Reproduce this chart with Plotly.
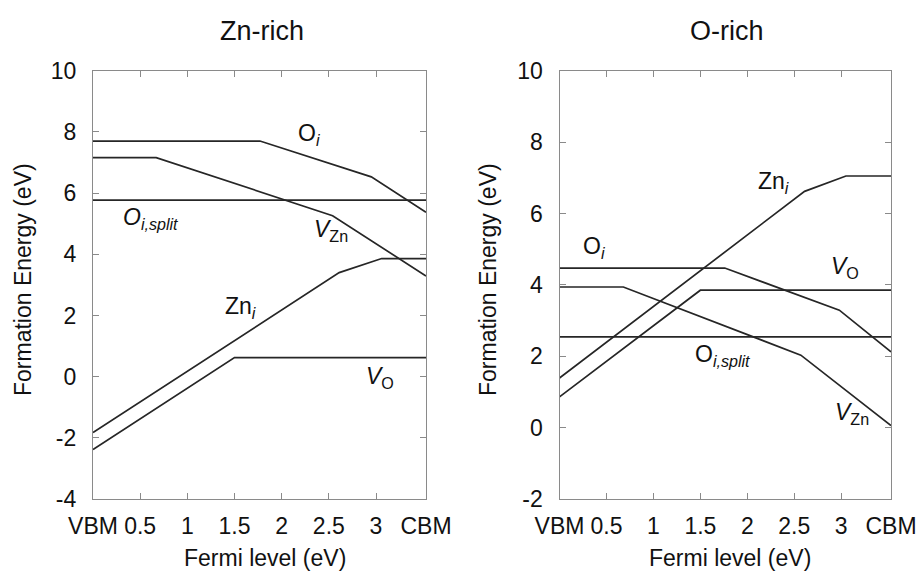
import plotly.graph_objects as go

# Fermi-level range (eV), VBM at 0
CBM = 3.53
x_tick_vals = [0, 0.5, 1, 1.5, 2, 2.5, 3, CBM]
x_tick_text = ["VBM", "0.5", "1", "1.5", "2", "2.5", "3", "CBM"]

# Energy ticks for each panel
zn_y_ticks = [-4, -2, 0, 2, 4, 6, 8, 10]
o_y_ticks = [-2, 0, 2, 4, 6, 8, 10]

# Zn-rich: piecewise-linear formation energies (Fermi level nodes, energies)
zn_oi_x = [0, 1.77, 2.95, CBM]
zn_oi_e = [7.70, 7.70, 6.53, 5.37]
zn_vzn_x = [0, 0.67, 2.54, CBM]
zn_vzn_e = [7.16, 7.16, 5.26, 3.29]
zn_oisplit_x = [0, CBM]
zn_oisplit_e = [5.77, 5.77]
zn_zni_x = [0, 2.61, 3.06, CBM]
zn_zni_e = [-1.83, 3.40, 3.86, 3.86]
zn_vo_x = [0, 1.50, CBM]
zn_vo_e = [-2.38, 0.62, 0.62]

# O-rich
o_oi_x = [0, 1.76, 2.98, CBM]
o_oi_e = [4.47, 4.47, 3.29, 2.12]
o_vzn_x = [0, 0.68, 2.57, CBM]
o_vzn_e = [3.94, 3.94, 2.03, 0.06]
o_oisplit_x = [0, CBM]
o_oisplit_e = [2.54, 2.54]
o_zni_x = [0, 2.61, 3.05, CBM]
o_zni_e = [1.39, 6.62, 7.05, 7.05]
o_vo_x = [0, 1.50, CBM]
o_vo_e = [0.86, 3.85, 3.85]

FONT = "Liberation Sans, Arial, sans-serif"
FS = 23
TXT = "#111111"
LINE = dict(color="#262626", width=1.7)
AX = "#8a8a8a"
W, H = 921, 575

fig = go.Figure()

left = [(zn_oi_x, zn_oi_e), (zn_vzn_x, zn_vzn_e), (zn_oisplit_x, zn_oisplit_e),
        (zn_zni_x, zn_zni_e), (zn_vo_x, zn_vo_e)]
right = [(o_oi_x, o_oi_e), (o_vzn_x, o_vzn_e), (o_oisplit_x, o_oisplit_e),
         (o_zni_x, o_zni_e), (o_vo_x, o_vo_e)]

for xs, es in left:
    fig.add_trace(go.Scatter(x=xs, y=es, mode="lines", line=LINE,
                             xaxis="x", yaxis="y", showlegend=False,
                             hoverinfo="skip"))
for xs, es in right:
    fig.add_trace(go.Scatter(x=xs, y=es, mode="lines", line=LINE,
                             xaxis="x2", yaxis="y2", showlegend=False,
                             hoverinfo="skip"))

ydom = [1 - 499 / H, 1 - 70.7 / H]


def xaxis(dom, anchor):
    return dict(domain=dom, anchor=anchor, range=[0, CBM], automargin=False,
                tickvals=x_tick_vals, ticktext=x_tick_text,
                ticks="inside", ticklen=6, tickcolor=AX, tickwidth=1,
                ticklabelstandoff=6,
                showline=True, linecolor=AX, linewidth=1.2, mirror="ticks",
                showgrid=False, zeroline=False,
                tickfont=dict(family=FONT, size=FS, color=TXT))


def yaxis(dom, anchor, ticks):
    return dict(domain=dom, anchor=anchor, range=[ticks[0], ticks[-1]],
                tickvals=ticks, ticktext=[str(v) for v in ticks],
                automargin=False,
                ticks="inside", ticklen=6, tickcolor=AX, tickwidth=1,
                ticklabelstandoff=11,
                showline=True, linecolor=AX, linewidth=1.2, mirror="ticks",
                showgrid=False, zeroline=False,
                tickfont=dict(family=FONT, size=FS, color=TXT))


fig.update_layout(
    width=W, height=H,
    margin=dict(l=0, r=0, t=0, b=0),
    paper_bgcolor="white", plot_bgcolor="white",
    xaxis=xaxis([93 / W, 426 / W], "y"),
    yaxis=yaxis(ydom, "x", zn_y_ticks),
    xaxis2=xaxis([559.5 / W, 891 / W], "y2"),
    yaxis2=yaxis(ydom, "x2", o_y_ticks),
)

labels = [
    # (axis suffix, fermi level, energy, text)
    ("", 2.15, 7.93, "O<sub><i>i</i></sub>"),
    ("", 0.30, 5.18, "<i>O</i><sub><i>i,split</i></sub>"),
    ("", 2.32, 4.79, "<i>V</i><sub>Zn</sub>"),
    ("", 1.38, 2.25, "Zn<sub><i>i</i></sub>"),
    ("", 2.87, -0.04, "<i>V</i><sub>O</sub>"),
    ("2", 2.09, 6.88, "Zn<sub><i>i</i></sub>"),
    ("2", 0.23, 5.04, "O<sub><i>i</i></sub>"),
    ("2", 2.87, 4.50, "<i>V</i><sub>O</sub>"),
    ("2", 1.42, 2.03, "O<sub><i>i,split</i></sub>"),
    ("2", 2.91, 0.40, "<i>V</i><sub>Zn</sub>"),
]
for ax, x, y, t in labels:
    fig.add_annotation(x=x, y=y, xref="x" + ax, yref="y" + ax, text=t,
                       showarrow=False, xanchor="left", yanchor="middle",
                       font=dict(family=FONT, size=FS, color=TXT))

# panel titles
for x, t in [(262, "Zn-rich"), (727, "O-rich")]:
    fig.add_annotation(x=x / W, y=1 - 31 / H, xref="paper", yref="paper",
                       text=t, showarrow=False, xanchor="center",
                       yanchor="middle",
                       font=dict(family=FONT, size=27, color=TXT))

# axis titles
for x in (265, 730):
    fig.add_annotation(x=x / W, y=1 - 558 / H, xref="paper", yref="paper",
                       text="Fermi level (eV)", showarrow=False,
                       xanchor="center", yanchor="middle",
                       font=dict(family=FONT, size=FS, color=TXT))
for x in (23, 488):
    fig.add_annotation(x=x / W, y=1 - 280 / H, xref="paper", yref="paper",
                       text="Formation Energy (eV)", showarrow=False,
                       textangle=-90, xanchor="center", yanchor="middle",
                       font=dict(family=FONT, size=FS, color=TXT))

fig.write_html("out.html")
